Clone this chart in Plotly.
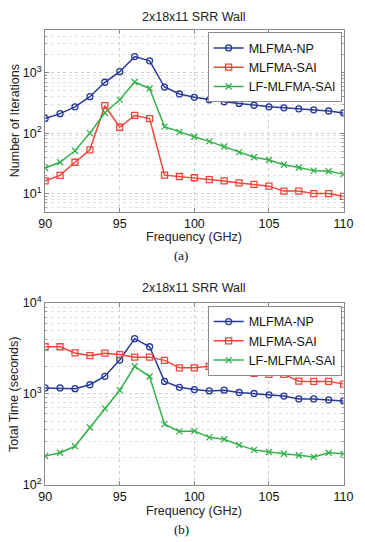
import plotly.graph_objects as go

freq = list(range(90, 111))

iter_np = [175, 210, 272, 400, 693, 1037, 1840, 1567, 578, 443, 391, 355, 330, 310, 289, 272, 262, 252, 243, 232, 215]
iter_sai = [16.3, 20, 33, 53, 284, 125, 196, 174, 20.2, 19.2, 18.3, 17, 16.2, 15, 14.2, 13.3, 11, 11, 10, 10, 9]
iter_lf = [26.5, 33, 51, 100, 217, 355, 700, 545, 128, 104, 87, 73, 60, 48, 40, 36, 30, 27, 24, 23.4, 21]

time_np = [1160, 1160, 1140, 1258, 1560, 2355, 4050, 3300, 1370, 1180, 1112, 1077, 1096, 1033, 1007, 975, 945, 877, 877, 855, 835]
time_sai = [3300, 3300, 2820, 2635, 2800, 2705, 2535, 2535, 2335, 1933, 1933, 2010, 1750, 1750, 1680, 1637, 1637, 1378, 1370, 1370, 1280]
time_lf = [206, 224, 264, 425, 690, 1095, 2010, 1548, 463, 385, 388, 331, 316, 272, 241, 228, 218, 210, 201, 224, 218]

names = ["MLFMA-NP", "MLFMA-SAI", "LF-MLFMA-SAI"]
colors = ["#27399c", "#f2453a", "#33b24a"]
symbols = ["circle-open", "square-open", "x-thin-open"]

W, H = 365, 542
def px_x(p): return p / W
def px_y(p): return 1 - p / H

fig = go.Figure()

for i, (ys, nm) in enumerate(zip([iter_np, iter_sai, iter_lf], names)):
    fig.add_trace(go.Scatter(x=freq, y=ys, name=nm, mode="lines+markers",
                             line=dict(color=colors[i], width=1.5),
                             marker=dict(symbol=symbols[i], size=6, color=colors[i],
                                         line=dict(width=1.3, color=colors[i])),
                             xaxis="x", yaxis="y", legend="legend"))
for i, (ys, nm) in enumerate(zip([time_np, time_sai, time_lf], names)):
    fig.add_trace(go.Scatter(x=freq, y=ys, name=nm, mode="lines+markers",
                             line=dict(color=colors[i], width=1.5),
                             marker=dict(symbol=symbols[i], size=6, color=colors[i],
                                         line=dict(width=1.3, color=colors[i])),
                             xaxis="x2", yaxis="y2", legend="legend2"))

minor_vals = [m * 10 ** k for k in range(0, 5) for m in range(2, 10)]
font_sans = "Liberation Sans, Arial, sans-serif"

xcommon = dict(range=[90, 110], tickvals=[90, 95, 100, 105, 110],
               showgrid=True, gridcolor="#cfcfcf", griddash="dot", gridwidth=1,
               showline=True, linecolor="#8a8a8a", linewidth=1, mirror="ticks",
               ticks="inside", ticklen=4, tickcolor="#8a8a8a",
               tickfont=dict(size=12.5, color="#111"), zeroline=False,
               domain=[px_x(40), px_x(353)])
ycommon = dict(type="log", showgrid=True, gridcolor="#cfcfcf", griddash="dot", gridwidth=1,
               showline=True, linecolor="#8a8a8a", linewidth=1, mirror="ticks",
               ticks="inside", ticklen=4, tickcolor="#8a8a8a",
               tickfont=dict(size=12.5, color="#111"), zeroline=False,
               minor=dict(tickvals=minor_vals, showgrid=True, gridcolor="#e2e2e2",
                          griddash="dot", ticks="inside", ticklen=2, tickcolor="#a0a0a0"))

fig.update_layout(
    width=W, height=H, margin=dict(l=0, r=0, t=0, b=0),
    paper_bgcolor="white", plot_bgcolor="white",
    font=dict(family=font_sans, size=13, color="#222"),
    xaxis=dict(**xcommon, anchor="y"),
    yaxis=dict(**ycommon, range=[0.699, 3.699], domain=[px_y(209), px_y(22)], anchor="x",
               tickvals=[10, 100, 1000], ticktext=["10<sup>1</sup>", "10<sup>2</sup>", "10<sup>3</sup>"]),
    xaxis2=dict(**xcommon, anchor="y2"),
    yaxis2=dict(**ycommon, range=[2, 4], domain=[px_y(490), px_y(303)], anchor="x2",
                tickvals=[100, 1000, 10000], ticktext=["10<sup>2</sup>", "10<sup>3</sup>", "10<sup>4</sup>"]),
    legend=dict(x=px_x(351), y=px_y(24), xanchor="right", yanchor="top",
                bordercolor="#8a8a8a", borderwidth=1, bgcolor="white",
                font=dict(size=12.5, color="#111"), tracegroupgap=0, itemwidth=30),
    legend2=dict(x=px_x(351), y=px_y(306), xanchor="right", yanchor="top",
                 bordercolor="#8a8a8a", borderwidth=1, bgcolor="white",
                 font=dict(size=12.5, color="#111"), tracegroupgap=0, itemwidth=30),
    showlegend=True,
)

ann = []
for ty, xy, yy, cy in [(8, 235, 115, 254), (288, 517, 397, 536)]:
    ann.append(dict(text="2x18x11 SRR Wall", x=px_x(196), y=px_y(ty), xref="paper", yref="paper",
                    showarrow=False, font=dict(size=12.5), xanchor="center", yanchor="middle"))
    ann.append(dict(text="Frequency (GHz)", x=px_x(196), y=px_y(xy), xref="paper", yref="paper",
                    showarrow=False, font=dict(size=12.5), xanchor="center", yanchor="middle"))
    ann.append(dict(text="(a)" if ty < 100 else "(b)", x=px_x(183), y=px_y(cy), xref="paper", yref="paper",
                    showarrow=False, font=dict(size=13, color="#111", family="Liberation Serif, Times New Roman, serif"),
                    xanchor="center", yanchor="middle"))
ann.append(dict(text="Number of Iterations", x=px_x(8), y=px_y(115), xref="paper", yref="paper",
                showarrow=False, textangle=-90, font=dict(size=12.5), xanchor="center", yanchor="middle"))
ann.append(dict(text="Total Time (seconds)", x=px_x(8), y=px_y(397), xref="paper", yref="paper",
                showarrow=False, textangle=-90, font=dict(size=12.5), xanchor="center", yanchor="middle"))
fig.update_layout(annotations=ann)

fig.write_html("out.html")
